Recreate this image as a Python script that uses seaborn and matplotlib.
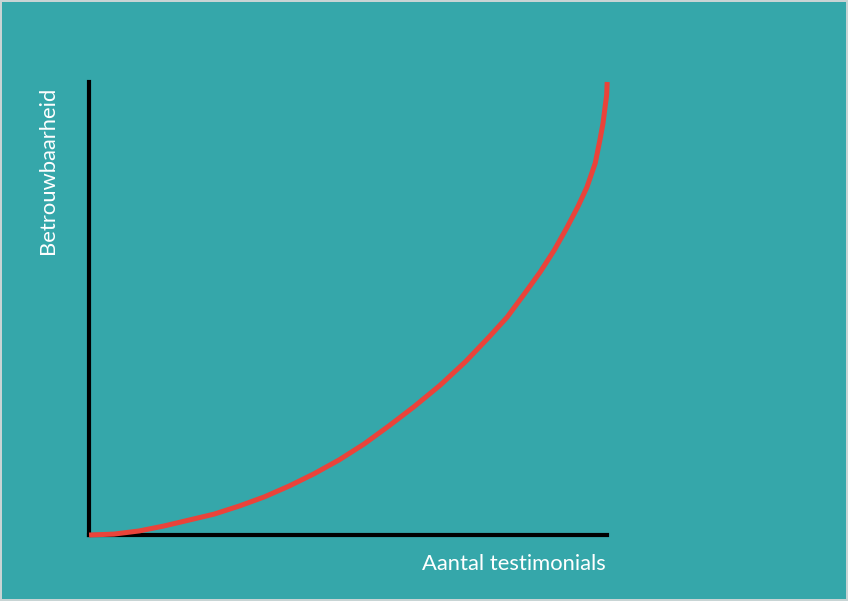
"""Betrouwbaarheid vs aantal testimonials, redrawn with seaborn."""

import matplotlib

matplotlib.use("Agg")
import matplotlib.pyplot as plt
import pandas as pd
import seaborn as sns

# values (axis runs 0..100 on both sides)
testimonials = [0.0, 4.8, 9.7, 14.5, 19.3, 24.1, 29.0, 33.8, 38.6, 43.4,
                48.3, 53.1, 57.9, 62.7, 67.8, 72.6, 77.2, 80.7, 84.0, 87.1,
                89.8, 92.3, 94.4, 96.1, 97.7, 98.6, 99.2, 99.6, 99.9, 100.0]
betrouwbaarheid = [0.0, 0.2, 0.9, 2.0, 3.3, 4.6, 6.4, 8.4, 10.8, 13.5,
                   16.6, 20.1, 24.1, 28.3, 33.1, 38.2, 43.7, 48.1, 53.2, 58.1,
                   62.9, 68.0, 72.6, 76.8, 82.1, 87.2, 90.9, 94.5, 97.1, 100.0]

x_label = "Aantal testimonials"
y_label = "Betrouwbaarheid"

BG = "#35a7aa"
RED = "#ea433a"

df = pd.DataFrame({"x": testimonials, "y": betrouwbaarheid})

sns.set_style("white")
plt.rcParams["font.family"] = ["Lato", "DejaVu Sans"]

fig = plt.figure(figsize=(8.48, 6.01), dpi=100, facecolor=BG,
                 edgecolor="#c8d4d4", linewidth=1.5)
ax = fig.add_axes([0.105, 0.1098, 0.611, 0.7538])
ax.set_facecolor(BG)

sns.lineplot(data=df, x="x", y="y", ax=ax, color=RED, linewidth=3.6,
             sort=False, clip_on=False, solid_capstyle="butt",
             solid_joinstyle="round")

ax.set_xlim(0, 100)
ax.set_ylim(0, 100)
ax.set_xticks([])
ax.set_yticks([])
ax.set_xlabel("")
ax.set_ylabel("")
for side in ("top", "right"):
    ax.spines[side].set_visible(False)
for side in ("left", "bottom"):
    ax.spines[side].set_color("black")
    ax.spines[side].set_linewidth(3)
    ax.spines[side].set_zorder(1)

fig.text(606 / 848, 1 - 564 / 601, x_label, color="white", fontsize=15.8,
         ha="right", va="center")
fig.text(48 / 848, 1 - 87 / 601, y_label, color="white", fontsize=15.8,
         ha="center", va="top", rotation=90)

fig.savefig("out.png", dpi=100, facecolor=BG, edgecolor=fig.get_edgecolor())
plt.close(fig)
